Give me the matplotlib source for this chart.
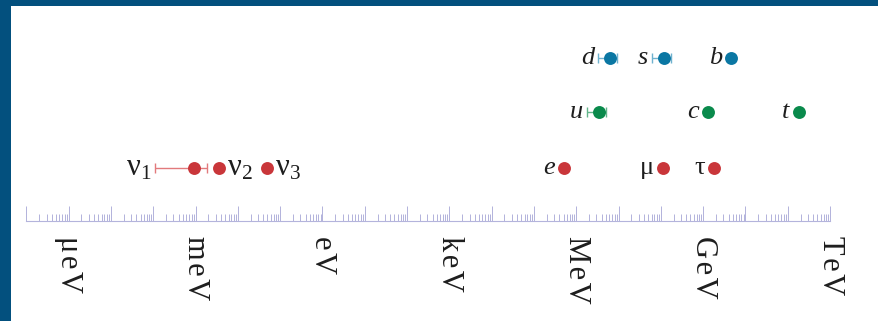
import numpy as np
import matplotlib.pyplot as plt
from matplotlib.ticker import LogLocator, FuncFormatter

plt.rcParams['font.family'] = ['Liberation Serif', 'DejaVu Serif']
plt.rcParams['mathtext.fontset'] = 'custom'
plt.rcParams['mathtext.rm'] = 'Liberation Serif'
plt.rcParams['mathtext.it'] = 'Liberation Serif:italic'

# ---- masses in eV (lower / upper end of the range where one is shown)
down_names = ['d', 's', 'b']
down_mass = [6.3e6, 1.18e8, 4.5e9]
down_lo = [3.3e6, 6.3e7, 4.5e9]
down_hi = [9.3e6, 1.7e8, 4.5e9]

up_names = ['u', 'c', 't']
up_mass = [3.5e6, 1.3e9, 1.8e11]
up_lo = [1.8e6, 1.3e9, 1.8e11]
up_hi = [5.0e6, 1.3e9, 1.8e11]

lep_names = ['e', 'μ', 'τ']
lep_mass = [5.11e5, 1.1e8, 1.777e9]

nu_names = ['ν$_1$', 'ν$_2$', 'ν$_3$']
nu_mass = [9.0e-4, 3.5e-3, 5.0e-2]
nu_lo = [1.1e-4, 3.5e-3, 5.0e-2]
nu_hi = [1.9e-3, 3.5e-3, 5.0e-2]

HS = '\u200a'
unit_names = {-6: HS.join('μeV'), -3: HS.join('meV'), 0: HS.join('eV'),
              3: HS.join('keV'), 6: HS.join('MeV'), 9: HS.join('GeV'),
              12: HS.join('TeV')}

# ---- layout (pixels)
W, H = 879, 321
PX_DEC = 42.3      # pixels per decade
X_EV = 322.5       # x pixel of 1 eV
ROW_DOWN, ROW_UP, ROW_LEP = 58, 112, 168
AXIS_Y = 221


def px_to_ev(px):
    return 10 ** ((px - X_EV) / PX_DEC)


blue, green, red = '#0b77a3', '#0a8a4c', '#c9363a'
blue_l, green_l, red_l = '#6fb2cf', '#62b58a', '#e27a7c'

fig = plt.figure(figsize=(W / 100, H / 100), dpi=100, facecolor='#03507e')

ax = fig.add_axes([11 / W, 0, (W - 11) / W, (H - 6) / H])
ax.set_facecolor('white')
ax.set_xscale('log')
ax.set_xlim(px_to_ev(11), px_to_ev(W))
ax.set_ylim(H, 6)
for sp in ax.spines.values():
    sp.set_visible(False)
ax.set_xticks([])
ax.set_yticks([])
ax.minorticks_off()


def draw_row(names, mass, lo, hi, y, col, col_l, italic=True, left=True):
    mass = np.array(mass)
    if lo is not None:
        xerr = [mass - np.array(lo), np.array(hi) - mass]
        ax.errorbar(mass, [y] * len(mass), xerr=xerr, fmt='none',
                    ecolor=col_l, elinewidth=1.0, capsize=3.5, capthick=1.0, zorder=2)
    ax.plot(mass, [y] * len(mass), 'o', color=col, markersize=9.3,
            markeredgewidth=0, zorder=3)
    for i, name in enumerate(names):
        if left:
            anchor = lo[i] if lo is not None else mass[i]
            ax.annotate(name, (anchor, y), xytext=(-9 if anchor == mass[i] else -4, 0),
                        textcoords='offset pixels', ha='right', va='center',
                        fontsize=19, style='italic' if italic else 'normal',
                        color='#1e1e1e')


draw_row(down_names, down_mass, down_lo, down_hi, ROW_DOWN, blue, blue_l)
draw_row(up_names, up_mass, up_lo, up_hi, ROW_UP, green, green_l)
draw_row(lep_names[:1], lep_mass[:1], None, None, ROW_LEP, red, red_l)
draw_row(lep_names[1:], lep_mass[1:], None, None, ROW_LEP, red, red_l, italic=False)

# neutrinos: first label sits left of its range, the others to the right
draw_row(nu_names, nu_mass, nu_lo, nu_hi, ROW_LEP, red, red_l, left=False)
ax.annotate(nu_names[0], (nu_lo[0], ROW_LEP), xytext=(-4, 0), textcoords='offset pixels',
            ha='right', va='center', fontsize=22, color='#1e1e1e')
for name, m in zip(nu_names[1:], nu_mass[1:]):
    ax.annotate(name, (m, ROW_LEP), xytext=(8, 0), textcoords='offset pixels',
                ha='left', va='center', fontsize=22, color='#1e1e1e')

# ---- energy scale
sx0 = X_EV - 7 * PX_DEC
sx1 = X_EV + 12 * PX_DEC
sc = fig.add_axes([sx0 / W, (H - AXIS_Y) / H, (sx1 - sx0) / W, 12 / H])
sc.patch.set_visible(False)
sc.set_xscale('log')
sc.set_xlim(1e-7, 1e12)
sc.set_yticks([])
for k in ['top', 'left', 'right']:
    sc.spines[k].set_visible(False)
sc.spines['bottom'].set_color('#b4b4dc')
sc.spines['bottom'].set_linewidth(0.8)
sc.xaxis.set_major_locator(LogLocator(base=10, numticks=40))
sc.xaxis.set_minor_locator(LogLocator(base=10, subs=np.arange(2, 10), numticks=40))


def unit_label(v, pos):
    e = int(round(np.log10(v)))
    return unit_names.get(e, '')


sc.xaxis.set_major_formatter(FuncFormatter(unit_label))
sc.tick_params(axis='x', which='both', direction='in', color='#a6a6d6', width=0.6)
sc.tick_params(axis='x', which='major', length=11, pad=11, labelsize=22,
               labelrotation=270, labelcolor='#1e1e1e')
sc.tick_params(axis='x', which='minor', length=5)
for lab in sc.get_xticklabels():
    lab.set_va('top')
    lab.set_ha('center')

fig.savefig('out.png', dpi=100, facecolor=fig.get_facecolor())
